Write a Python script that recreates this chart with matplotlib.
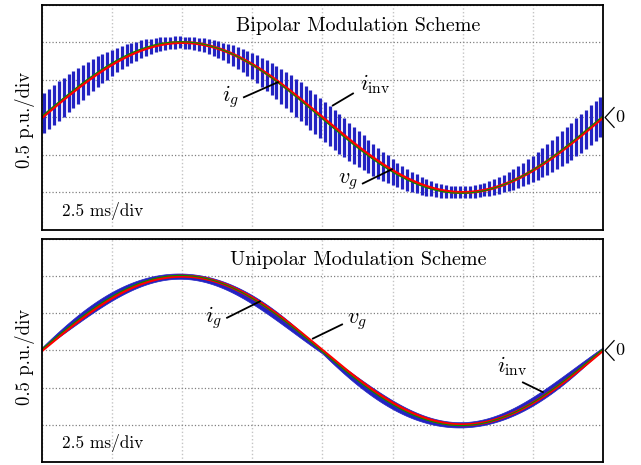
import matplotlib
matplotlib.use('Agg')
import matplotlib.pyplot as plt
import numpy as np

plt.rcParams['font.family'] = 'cmr10'
plt.rcParams['mathtext.fontset'] = 'cm'
plt.rcParams['axes.unicode_minus'] = False

period_ms = 20.0          # one grid cycle spans 8 divisions
ms_per_div = 2.5
pu_per_div = 0.5
n_div_x = 8
n_div_y = 6
amp_ig = 1.0              # p.u.
amp_vg = 1.01
vg_lead_ms = 0.06
iinv_lead_ms = 0.10
f_stripe_khz = 5.8               # visible ripple stripes, ~14 per division
bipolar_ripple = [0.27, 0.08]    # half band width at zero crossing, at peak (p.u.)
unipolar_ripple = 0.05           # largest half band width (p.u.)
unipolar_m = 0.85

titles = ['Bipolar Modulation Scheme', 'Unipolar Modulation Scheme']

# (label, text x, text y, line start, line end) in ms / p.u.
labels_top = [
    (r'$i_g$', 6.74, 0.28, (7.20, 0.27), (8.41, 0.47)),
    (r'$i_{\rm inv}$', 11.87, 0.45, (10.37, 0.16), (11.09, 0.32)),
    (r'$v_g$', 10.91, -0.86, (11.44, -0.88), (12.48, -0.69)),
]
labels_bot = [
    (r'$i_g$', 6.10, 0.44, (6.60, 0.44), (7.77, 0.66)),
    (r'$v_g$', 11.23, 0.39, (9.66, 0.16), (10.70, 0.35)),
    (r'$i_{\rm inv}$', 16.76, -0.21, (17.15, -0.43), (17.86, -0.56)),
]

t = np.linspace(0, period_ms, 4001)
w = 2 * np.pi / period_ms
ig = amp_ig * np.sin(w * t)
vg = amp_vg * np.sin(w * (t + vg_lead_ms))

# bipolar: ripple stripes, widest at zero crossing
t_bi = np.arange(0.5 / f_stripe_khz, period_ms, 1 / f_stripe_khz)
c_bi = amp_ig * np.sin(w * (t_bi + iinv_lead_ms))
h_bi = bipolar_ripple[0] * np.cos(w * t_bi) ** 2 + bipolar_ripple[1] * np.sin(w * t_bi) ** 2

# unipolar: doubled ripple frequency, narrow band vanishing at zero crossing
c_uni = amp_ig * np.sin(w * (t + iinv_lead_ms))
s = np.abs(np.sin(w * t))
h_uni = unipolar_ripple * 4 * unipolar_m * s * (1 - unipolar_m * s) + 0.01

fig = plt.figure(figsize=(6.41, 4.65), dpi=100)
ax_top = fig.add_axes([0.0655, 0.5054, 0.875, 0.4839])
ax_bot = fig.add_axes([0.0655, 0.0065, 0.875, 0.4796])

ax_top.vlines(t_bi, c_bi - h_bi, c_bi + h_bi, color='#2323c2', lw=2.3)
ax_bot.fill_between(t, c_uni - h_uni, c_uni + h_uni, color='#2323c2', lw=0.5,
                    edgecolor='#2323c2')

for ax, title, labels, ylab_y in [(ax_top, titles[0], labels_top, 0.49),
                                  (ax_bot, titles[1], labels_bot, 0.47)]:
    ax.plot(t, ig, color='#ff0000', lw=2.2)
    ax.plot(t, vg, color='#009000', lw=0.8)

    ax.set_xlim(0, n_div_x * ms_per_div)
    ax.set_ylim(-n_div_y / 2 * pu_per_div, n_div_y / 2 * pu_per_div)
    ax.set_xticks(np.arange(0, n_div_x * ms_per_div + 0.1, ms_per_div))
    ax.set_yticks(np.arange(-1.5, 1.51, pu_per_div))
    ax.tick_params(length=0, labelbottom=False, labelleft=False)
    ax.xaxis.grid(True, color='#c4c4c4', ls=':', lw=1.0)
    ax.yaxis.grid(True, color='#808080', ls=':', lw=0.9)
    ax.set_axisbelow(True)
    for sp in ax.spines.values():
        sp.set_linewidth(1.3)

    ax.text(0.563, 0.905, title, transform=ax.transAxes, ha='center', va='center',
            fontsize=14.5)
    ax.text(0.035, 0.085, '2.5 ms/div', transform=ax.transAxes, ha='left',
            va='center', fontsize=12.5)
    ax.text(-0.013, ylab_y, '0.5 p.u./div', transform=ax.transAxes, rotation=90,
            ha='right', va='center', fontsize=13.5)

    # zero marker on the right
    ax.plot([1.02, 1.004, 1.02], [0.544, 0.5, 0.456], transform=ax.transAxes,
            color='black', lw=0.9, clip_on=False)
    ax.text(1.022, 0.5, '0', transform=ax.transAxes, ha='left', va='center',
            fontsize=13)

    for txt, tx, ty, p0, p1 in labels:
        ax.plot([p0[0], p1[0]], [p0[1], p1[1]], color='black', lw=1.3)
        ax.text(tx, ty, txt, ha='center', va='center', fontsize=16)

fig.savefig('out.png', dpi=100)
